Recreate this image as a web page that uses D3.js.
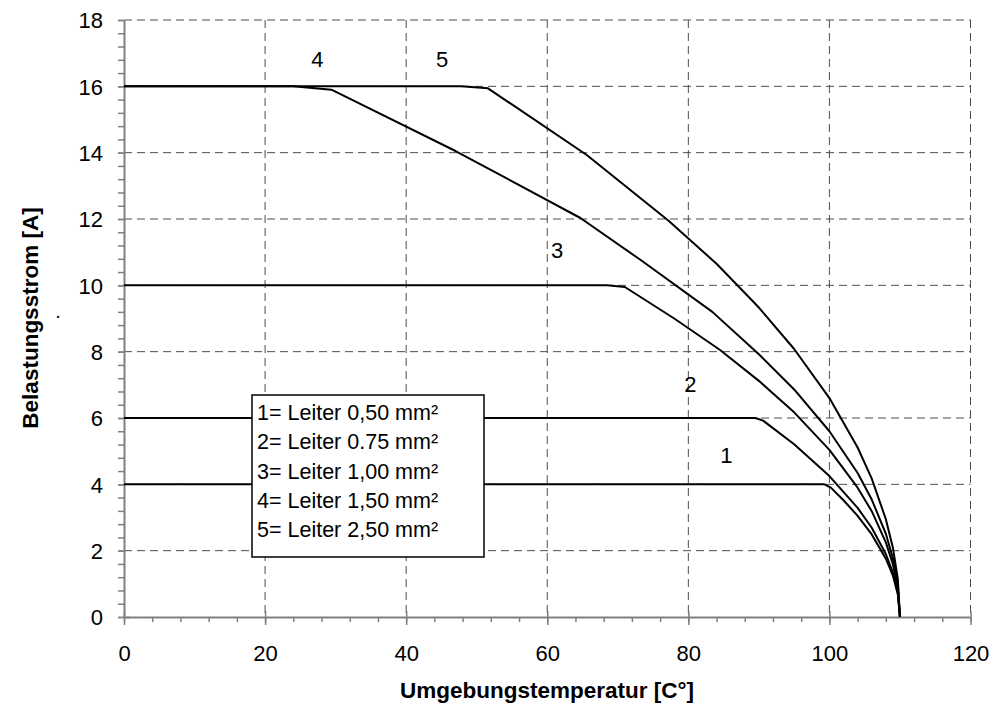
<!DOCTYPE html>
<html>
<head>
<meta charset="utf-8">
<script src="https://cdn.jsdelivr.net/npm/d3@7"></script>
<style>
  body { margin: 0; background: #fff; }
  svg { font-family: "Liberation Sans", Arial, sans-serif; }
</style>
</head>
<body>
<div id="chart"></div>
<script>
// Umgebungstemperatur [°C] / Belastungsstrom [A]
const curve1 = [[0, 4], [99.3, 4], [100.2, 3.9], [102, 3.52], [104, 3.05], [106, 2.49], [108, 1.76], [109, 1.25], [109.7, 0.68], [110, 0]];
const curve2 = [[0, 6], [89.5, 6], [90.6, 5.92], [95, 5.21], [100, 4.25], [104, 3.29], [106, 2.69], [108, 1.9], [109, 1.34], [109.7, 0.74], [110, 0]];
const curve3 = [[0, 10], [68.5, 10], [71, 9.95], [78, 9.0], [84.5, 8.05], [90, 7.12], [95, 6.17], [100, 5.04], [104, 3.9], [106, 3.19], [108, 2.25], [109, 1.59], [109.7, 0.87], [110, 0]];
const curve4 = [[0, 16], [24, 16], [29.4, 15.9], [47, 14.05], [64.7, 12.03], [73.2, 10.77], [83.4, 9.2], [90, 7.92], [95, 6.86], [100, 5.6], [104, 4.34], [106, 3.54], [108, 2.51], [109, 1.77], [109.7, 0.97], [110, 0]];
const curve5 = [[0, 16], [47.8, 16], [51.6, 15.94], [65.6, 13.93], [77.2, 11.95], [84, 10.65], [90, 9.33], [95, 8.08], [100, 6.6], [104, 5.11], [106, 4.17], [108, 2.95], [109, 2.09], [109.7, 1.14], [110, 0]];
const curves = [curve1, curve2, curve3, curve4, curve5];

// curve numbers placed in the plot: [label, temperature, current]
const curveLabels = [["1", 85.4, 4.88], ["2", 80.3, 7.0], ["3", 61.4, 11.06], ["4", 27.4, 16.8], ["5", 45.1, 16.8]];

const legendLines = ["1= Leiter 0,50 mm²", "2= Leiter 0.75 mm²", "3= Leiter 1,00 mm²", "4= Leiter 1,50 mm²", "5= Leiter 2,50 mm²"];

const xTicks = [0, 20, 40, 60, 80, 100, 120];
const yTicks = [0, 2, 4, 6, 8, 10, 12, 14, 16, 18];

const W = 997, H = 709;
const x = d3.scaleLinear().domain([0, 120]).range([124, 970.5]);
const y = d3.scaleLinear().domain([0, 18]).range([617, 20]);

const svg = d3.select('#chart').append('svg')
    .attr('width', W)
    .attr('height', H);

// Grid (dashed)
const grid = svg.append('g').attr('stroke', '#4d4d4d').attr('stroke-width', 1).attr('stroke-dasharray', '8,5');
grid.selectAll('line.gx')
    .data(xTicks.filter(d => d > 0))
    .enter().append('line')
    .attr('x1', d => x(d)).attr('x2', d => x(d))
    .attr('y1', y(18)).attr('y2', y(0));
grid.selectAll('line.gy')
    .data(yTicks.filter(d => d > 0))
    .enter().append('line')
    .attr('x1', x(0)).attr('x2', x(120))
    .attr('y1', d => y(d)).attr('y2', d => y(d));

// Minor ticks
const axisColor = '#808080';
svg.append('g')
    .attr('transform', `translate(0,${y(0)})`)
    .call(d3.axisBottom(x).tickValues(d3.range(0, 120.1, 4)).tickSize(5).tickFormat(''))
    .call(g => g.select('.domain').remove())
    .call(g => g.selectAll('line').attr('stroke', axisColor).attr('stroke-width', 1.5));
svg.append('g')
    .attr('transform', `translate(${x(0)},0)`)
    .call(d3.axisLeft(y).tickValues(d3.range(0, 18.01, 0.4)).tickSize(6).tickFormat(''))
    .call(g => g.select('.domain').remove())
    .call(g => g.selectAll('line').attr('stroke', axisColor).attr('stroke-width', 1.5));

// Major axes
const xAxis = svg.append('g')
    .attr('transform', `translate(0,${y(0)})`)
    .call(d3.axisBottom(x).tickValues(xTicks).tickSizeInner(8).tickSizeOuter(0).tickPadding(20));
xAxis.selectAll('.tick line').attr('y1', -6);
const yAxis = svg.append('g')
    .attr('transform', `translate(${x(0)},0)`)
    .call(d3.axisLeft(y).tickValues(yTicks).tickSizeInner(6).tickSizeOuter(0).tickPadding(15));
yAxis.selectAll('.tick line').filter(d => d === 0).attr('x1', 6);

[xAxis, yAxis].forEach(a => {
    a.select('.domain').attr('stroke', axisColor).attr('stroke-width', 2);
    a.selectAll('.tick line').attr('stroke', axisColor).attr('stroke-width', 1.5);
    a.selectAll('.tick text')
        .attr('fill', '#000')
        .attr('font-size', '22px')
        .attr('font-family', '"Liberation Sans", Arial, sans-serif');
});
yAxis.selectAll('.tick text').attr('dy', '0.36em');

// Curves
const line = d3.line().x(d => x(d[0])).y(d => y(d[1]));
svg.append('g')
    .selectAll('path')
    .data(curves)
    .enter().append('path')
    .attr('d', line)
    .attr('fill', 'none')
    .attr('stroke', '#000')
    .attr('stroke-width', 2)
    .attr('stroke-linejoin', 'round');

// Curve numbers
svg.append('g')
    .selectAll('text')
    .data(curveLabels)
    .enter().append('text')
    .attr('x', d => x(d[1]))
    .attr('y', d => y(d[2]))
    .attr('text-anchor', 'middle')
    .attr('dominant-baseline', 'central')
    .attr('font-size', '22px')
    .text(d => d[0]);

// Legend box
const legend = svg.append('g').attr('transform', 'translate(252,395)');
legend.append('rect')
    .attr('width', 232).attr('height', 162)
    .attr('fill', '#fff')
    .attr('stroke', '#000')
    .attr('stroke-width', 1.5);
legend.selectAll('text')
    .data(legendLines)
    .enter().append('text')
    .attr('x', 5)
    .attr('y', (d, i) => 18 + i * 29.3)
    .attr('dominant-baseline', 'central')
    .attr('font-size', '21.5px')
    .text(d => d);

// Axis titles
svg.append('text')
    .attr('x', 547).attr('y', 698)
    .attr('text-anchor', 'middle')
    .attr('font-size', '22.5px')
    .attr('font-weight', 'bold')
    .text('Umgebungstemperatur [C°]');
svg.append('text')
    .attr('transform', 'translate(30,318) rotate(-90)')
    .attr('text-anchor', 'middle')
    .attr('dominant-baseline', 'central')
    .attr('font-size', '22.5px')
    .attr('font-weight', 'bold')
    .text('Belastungsstrom [A]');
svg.append('text')
    .attr('x', 58).attr('y', 318)
    .attr('text-anchor', 'middle')
    .attr('font-size', '20px')
    .text('.');
</script>
</body>
</html>
